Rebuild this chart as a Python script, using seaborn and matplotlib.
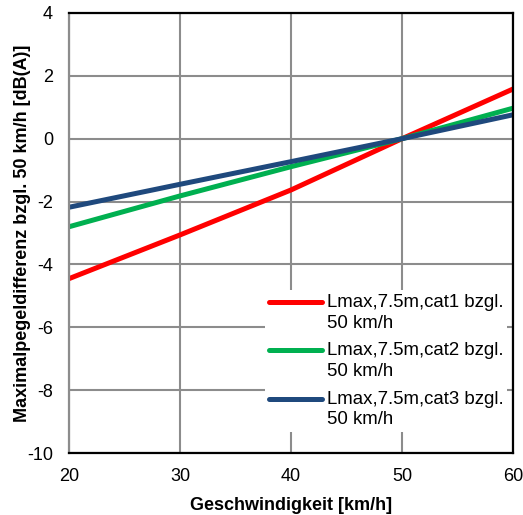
import matplotlib
matplotlib.use("Agg")
import matplotlib.pyplot as plt
import seaborn as sns
import pandas as pd

speeds = [20, 30, 40, 50, 60]
cat1 = [-4.45, -3.06, -1.63, 0.0, 1.58]
cat2 = [-2.80, -1.82, -0.89, 0.0, 0.97]
cat3 = [-2.18, -1.45, -0.73, 0.0, 0.76]
labels = ["Lmax,7.5m,cat1 bzgl.\n50 km/h",
          "Lmax,7.5m,cat2 bzgl.\n50 km/h",
          "Lmax,7.5m,cat3 bzgl.\n50 km/h"]
colors = ["#FF0000", "#00B050", "#1F497D"]
xticks = [20, 30, 40, 50, 60]
yticks = [-10, -8, -6, -4, -2, 0, 2, 4]

sns.set_style("white")
plt.rcParams['font.family'] = ['Liberation Sans', 'DejaVu Sans']
plt.rcParams['text.color'] = 'black'
plt.rcParams['axes.labelcolor'] = 'black'
plt.rcParams['xtick.color'] = 'black'
plt.rcParams['ytick.color'] = 'black'

rows = []
for lab, vals in zip(labels, [cat1, cat2, cat3]):
    for s, v in zip(speeds, vals):
        rows.append({"speed": s, "diff": v, "series": lab})
df = pd.DataFrame(rows)

fig = plt.figure(figsize=(5.23, 5.15), dpi=100)
ax = fig.add_axes([0.132, 0.120, 0.849, 0.855])

sns.lineplot(data=df, x="speed", y="diff", hue="series", palette=colors,
             linewidth=3.6, ax=ax, legend=True)

FS = 13
ax.set_xlim(20, 60)
ax.set_ylim(-10, 4)
ax.set_xticks(xticks)
ax.set_yticks(yticks)
ax.set_xticklabels([str(t) for t in xticks], fontsize=FS)
ax.set_yticklabels([str(t) for t in yticks], fontsize=FS)
ax.grid(True, color="#8c8c8c", linewidth=1.5)
ax.set_axisbelow(True)

for side in ["top", "right", "bottom"]:
    ax.spines[side].set_color("black")
    ax.spines[side].set_linewidth(1.6)
ax.spines["left"].set_color("#8c8c8c")
ax.spines["left"].set_linewidth(1.6)
ax.tick_params(axis="y", direction="out", length=5, width=1.5, color="#8c8c8c",
               labelcolor="black", pad=6.5)
ax.tick_params(axis="x", length=0, pad=11, labelcolor="black")

ax.set_xlabel("Geschwindigkeit [km/h]", fontsize=FS, fontweight="bold", labelpad=8)
ax.set_ylabel("Maximalpegeldifferenz bzgl. 50 km/h [dB(A)]", fontsize=FS,
              fontweight="bold", labelpad=-3)

leg = ax.legend(loc="lower right", bbox_to_anchor=(1.0, 0.035), frameon=True,
                facecolor="white", edgecolor="none", framealpha=1.0, fancybox=False,
                fontsize=13.4, handlelength=2.9, handletextpad=0.25,
                labelspacing=0.58, borderaxespad=0.3, borderpad=0.2)
for t in leg.get_texts():
    t.set_linespacing(1.28)
for line in leg.get_lines():
    line.set_linewidth(3.6)
    yd = line.get_ydata()
    line.set_ydata([y + 8.0 for y in yd])

fig.savefig("out.png", dpi=100)
